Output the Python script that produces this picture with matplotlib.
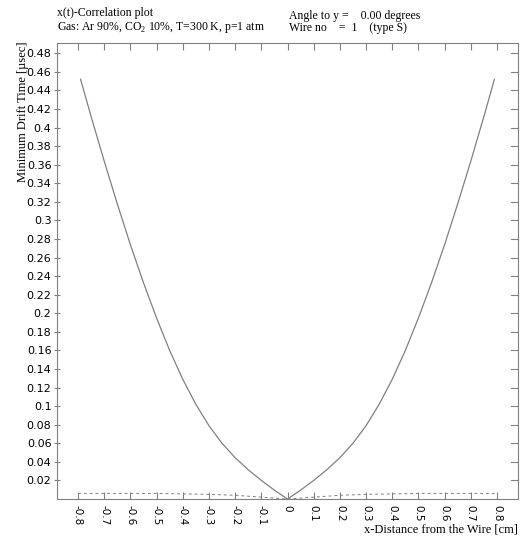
import numpy as np
import matplotlib
matplotlib.use("Agg")
import matplotlib.pyplot as plt

# distance from the wire [cm] and minimum drift time [usec]
dist = [0.0, 0.05, 0.1, 0.15, 0.2, 0.25, 0.3, 0.35, 0.4, 0.45, 0.5,
        0.55, 0.6, 0.65, 0.7, 0.75, 0.79]
drift = [0.0, 0.0095, 0.020, 0.0315, 0.0445, 0.060, 0.079, 0.102, 0.129, 0.160, 0.195,
         0.233, 0.274, 0.318, 0.364, 0.412, 0.452]

# dashed reference curve near the bottom
dash_x = [0.0, 0.1, 0.2, 0.3, 0.4, 0.5, 0.6, 0.7, 0.8]
dash_y = [0.0, 0.002, 0.004, 0.005, 0.0055, 0.006, 0.006, 0.006, 0.006]

xticks = [-0.8, -0.7, -0.6, -0.5, -0.4, -0.3, -0.2, -0.1, 0.0,
          0.1, 0.2, 0.3, 0.4, 0.5, 0.6, 0.7, 0.8]
yticks = [0.02, 0.04, 0.06, 0.08, 0.1, 0.12, 0.14, 0.16, 0.18, 0.2, 0.22, 0.24,
          0.26, 0.28, 0.3, 0.32, 0.34, 0.36, 0.38, 0.4, 0.42, 0.44, 0.46, 0.48]

plt.rcParams["mathtext.fontset"] = "custom"
plt.rcParams["mathtext.rm"] = "Liberation Serif"

SERIF = "Liberation Serif"
SANS = "DejaVu Sans"
GREY = "#808080"

fig = plt.figure(figsize=(5.21, 5.37), dpi=100)
ax = fig.add_axes([57 / 521, 38 / 537, 461 / 521, 456 / 537])

# mirror both curves about the wire
x_full = [-v for v in dist[::-1]] + dist[1:]
y_full = drift[::-1] + drift[1:]
ax.plot(x_full, y_full, color=GREY, lw=0.9)

dx_full = [-v for v in dash_x[::-1]] + dash_x[1:]
dy_full = dash_y[::-1] + dash_y[1:]
ax.plot(dx_full, dy_full, color=GREY, lw=0.7, ls=(0, (3, 3)))

ax.set_xlim(-0.88, 0.88)
ax.set_ylim(0, 0.491)

ax.set_xticks(xticks)
ax.set_xticklabels([f"{v:g}" for v in xticks], rotation=-90, fontsize=7.5,
                   family=SANS, va="top", ha="center")
ax.set_yticks(yticks)
ax.set_yticklabels([f"{v:g}" for v in yticks], fontsize=8, family=SANS)

ax.tick_params(axis="x", direction="in", length=5, pad=4, color=GREY,
               top=True, bottom=True)
ax.tick_params(axis="y", direction="inout", length=4, pad=2, color=GREY,
               left=True, right=False)
for v in yticks:
    ax.plot([0.985, 1.0], [v, v], transform=ax.get_yaxis_transform(),
            color=GREY, lw=0.8, clip_on=False)

for sp in ax.spines.values():
    sp.set_color(GREY)
    sp.set_linewidth(0.8)

fig.text(17 / 521, 1 - 42 / 537, "Minimum Drift Time [\u00b5sec]", rotation=90,
         ha="left", va="top", fontsize=9, family=SERIF)
fig.text(518 / 521, 1 - 529 / 537, "x-Distance from the Wire [cm]",
         ha="right", va="center", fontsize=9, family=SERIF)

fig.text(57 / 521, 1 - 13 / 537, "x(t)-Correlation plot",
         ha="left", va="center", fontsize=8.5, family=SERIF)
fig.text(57 / 521, 1 - 28 / 537, "Gas: Ar 90%, CO$_2$ 10%, T=300 K, p=1 atm",
         ha="left", va="center", fontsize=8.5, family=SERIF)
fig.text(289 / 521, 1 - 16 / 537, "Angle to y =    0.00 degrees",
         ha="left", va="center", fontsize=8.5, family=SERIF)
fig.text(289 / 521, 1 - 28 / 537, "Wire no    =  1    (type S)",
         ha="left", va="center", fontsize=8.5, family=SERIF)

fig.savefig("out.png", dpi=100)
